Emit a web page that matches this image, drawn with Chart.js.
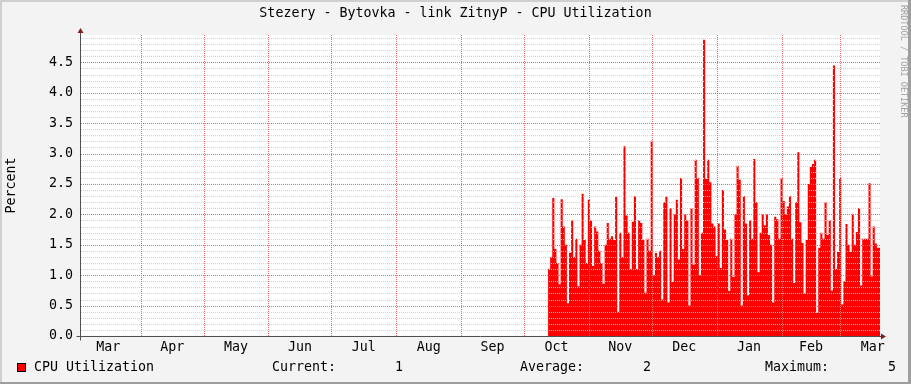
<!DOCTYPE html>
<html>
<head>
<meta charset="utf-8">
<title>Stezery - Bytovka - link ZitnyP - CPU Utilization</title>
<script src="https://cdn.jsdelivr.net/npm/chart.js@4/dist/chart.umd.min.js"></script>
<style>
  html, body { margin: 0; padding: 0; background: #F3F3F3; }
  #chart { display: block; }
</style>
</head>
<body>
<canvas id="chart" width="911" height="384"></canvas>
<script>
// x axis in days counted from the left edge of the plot (3 Mar)
const monthNames = ['Mar', 'Apr', 'May', 'Jun', 'Jul', 'Aug', 'Sep', 'Oct', 'Nov', 'Dec', 'Jan', 'Feb', 'Mar'];
const monthStarts = [-2, 29, 59, 90, 120, 151, 182, 212, 243, 273, 304, 335, 363, 394];
const dayMin = 0;
const dayMax = 382;

const yTickLabels = ['0.0', '0.5', '1.0', '1.5', '2.0', '2.5', '3.0', '3.5', '4.0', '4.5'];
const yMax = 4.95;

// daily CPU utilization (%), first sample on day 223.5 (mid October)
const cpuStartDay = 223.5;
const cpuValues = [
  1.55, 1.10, 1.30, 2.27, 1.43, 1.20, 0.85, 2.25, 1.80, 1.50,
  0.54, 1.37, 1.90, 1.30, 1.60, 0.82, 1.50, 2.34, 1.58, 1.20,
  2.24, 1.90, 1.15, 1.80, 1.72, 1.40, 1.20, 0.86, 1.50, 1.86,
  1.60, 1.64, 1.58, 2.29, 0.40, 1.70, 1.30, 3.12, 1.98, 1.70,
  1.10, 1.88, 2.30, 1.10, 1.90, 1.86, 1.58, 0.71, 1.60, 1.40,
  3.21, 1.00, 1.37, 1.30, 1.40, 0.60, 2.20, 2.29, 0.55, 2.10,
  0.89, 2.00, 2.24, 1.26, 2.60, 1.43, 2.00, 1.90, 0.50, 2.10,
  1.17, 2.90, 2.60, 1.00, 1.70, 4.87, 2.58, 2.90, 2.53, 1.85,
  1.80, 1.31, 1.85, 1.12, 2.40, 1.75, 1.58,
  0.74, 1.60, 0.97, 2.00, 2.80, 2.57, 0.50, 2.30, 1.85, 0.67,
  1.90, 1.60, 2.91, 2.20, 1.05, 1.70, 2.00, 1.82, 2.00, 1.66,
  1.50, 0.55, 1.96, 1.92, 1.60, 2.60, 2.22, 2.00, 2.13, 2.30,
  1.60, 0.87, 2.20, 3.02, 1.87, 1.53, 0.70, 1.58, 2.50, 2.78,
  2.83, 2.90, 0.38, 1.45, 1.70, 1.60, 2.20, 1.66, 1.90, 0.75,
  4.45, 1.10, 1.38, 2.60, 0.52, 0.90, 1.84, 1.50, 1.38, 2.00,
  1.50, 1.71, 2.10, 0.83, 1.60, 1.60, 1.60, 2.51, 0.98, 1.80,
  1.52, 1.45
];

const seriesName = 'CPU Utilization';
const titleText = 'Stezery - Bytovka - link ZitnyP - CPU Utilization';

const FONT = 'DejaVu Sans Mono';
const FONT_SIZE = 13.3;
const GRID_MINOR = '#D4D4D4';
const GRID_MAJOR = '#E86A6A';
const AXIS_COLOR = '#505050';
const ARROW_COLOR = '#7F1F1F';

// points for the stepped area
const points = cpuValues.map((v, i) => ({ x: cpuStartDay + i, y: v }));
points.push({ x: cpuStartDay + cpuValues.length, y: cpuValues[cpuValues.length - 1] });

const monthMids = monthNames.map((m, i) => (monthStarts[i] + monthStarts[i + 1]) / 2);

// legend numbers, rounded like rrdtool's %.0lf
const current = cpuValues[cpuValues.length - 1];
const average = cpuValues.reduce((a, b) => a + b, 0) / cpuValues.length;
const maximum = Math.max(...cpuValues);
const legendStats = [
  ['Current:', current.toFixed(0), 272, 403],
  ['Average:', average.toFixed(0), 520, 651],
  ['Maximum:', maximum.toFixed(0), 765, 896]
];

// rrdtool style dotted grid, drawn on top of the area
function dottedH(ctx, y, x1, x2, color) {
  ctx.fillStyle = color;
  for (let x = x1; x < x2; x += 2) ctx.fillRect(x, y, 1, 1);
}
function dottedV(ctx, x, y1, y2, color) {
  ctx.fillStyle = color;
  for (let y = y1; y < y2; y += 2) ctx.fillRect(x, y, 1, 1);
}

const rrdFrame = {
  id: 'rrdFrame',
  beforeDraw(chart) {
    const { ctx, chartArea: a, width, height } = chart;
    ctx.save();
    ctx.fillStyle = '#F3F3F3';
    ctx.fillRect(0, 0, width, height);
    ctx.fillStyle = '#CFCFCF';
    ctx.fillRect(0, 0, width, 2);
    ctx.fillRect(0, 0, 2, height);
    ctx.fillStyle = '#9E9E9E';
    ctx.fillRect(0, height - 2, width, 2);
    ctx.fillRect(width - 3, 0, 3, height);
    ctx.fillStyle = '#FFFFFF';
    ctx.fillRect(a.left, a.top, a.right - a.left, a.bottom - a.top);
    ctx.restore();
  },
  afterDatasetsDraw(chart) {
    const { ctx, chartArea: a, scales } = chart;
    const left = Math.round(a.left) + 1;
    const right = Math.round(a.right);
    const top = Math.round(a.top);
    const bottom = Math.round(a.bottom);
    ctx.save();
    scales.y.ticks.forEach((t, i) => {
      if (i === 0) return;
      const y = Math.round(scales.y.getPixelForValue(t.value));
      dottedH(ctx, y, left, right, i % 5 === 0 ? GRID_MAJOR : GRID_MINOR);
    });
    monthStarts.forEach(d => {
      if (d <= dayMin || d >= dayMax) return;
      const x = Math.round(scales.x.getPixelForValue(d));
      dottedV(ctx, x, top, bottom, GRID_MAJOR);
    });
    ctx.restore();
  },
  afterDraw(chart) {
    const { ctx, chartArea: a, width } = chart;
    const x0 = Math.round(a.left) + 0.5;
    const y0 = Math.round(a.bottom) + 0.5;
    ctx.save();
    // axis stubs
    ctx.strokeStyle = AXIS_COLOR;
    ctx.lineWidth = 1;
    ctx.beginPath();
    ctx.moveTo(x0 - 4, y0); ctx.lineTo(x0, y0);
    ctx.moveTo(x0, y0); ctx.lineTo(x0, y0 + 4);
    ctx.moveTo(x0, a.top); ctx.lineTo(x0, a.top - 3);
    ctx.stroke();
    ctx.strokeStyle = ARROW_COLOR;
    ctx.beginPath();
    ctx.moveTo(a.right, y0); ctx.lineTo(a.right + 3, y0);
    ctx.stroke();
    // arrows
    ctx.fillStyle = ARROW_COLOR;
    ctx.beginPath();
    ctx.moveTo(x0, a.top - 7);
    ctx.lineTo(x0 - 3, a.top - 2);
    ctx.lineTo(x0 + 3, a.top - 2);
    ctx.closePath();
    ctx.fill();
    ctx.beginPath();
    ctx.moveTo(a.right + 6, y0);
    ctx.lineTo(a.right + 1, y0 - 3);
    ctx.lineTo(a.right + 1, y0 + 3);
    ctx.closePath();
    ctx.fill();

    // title
    ctx.fillStyle = '#000';
    ctx.font = FONT_SIZE + 'px "' + FONT + '"';
    ctx.textBaseline = 'middle';
    ctx.textAlign = 'center';
    ctx.fillText(titleText, width / 2, 14);

    // legend line
    ctx.textAlign = 'left';
    ctx.fillStyle = '#FF0000';
    ctx.fillRect(17, 363, 9, 9);
    ctx.strokeStyle = '#000';
    ctx.strokeRect(17.5, 363.5, 8, 8);
    ctx.fillStyle = '#000';
    ctx.fillText(seriesName, 34, 368);
    legendStats.forEach(([label, value, lx, vx]) => {
      ctx.textAlign = 'left';
      ctx.fillText(label, lx, 368);
      ctx.textAlign = 'right';
      ctx.fillText(value, vx, 368);
    });

    // watermark
    ctx.fillStyle = '#A0A0A0';
    ctx.font = '8.5px "' + FONT + '"';
    ctx.textAlign = 'left';
    ctx.translate(903, 5);
    ctx.rotate(Math.PI / 2);
    ctx.fillText('RRDTOOL / TOBI OETIKER', 0, 0);
    ctx.restore();
  }
};

Chart.defaults.font.family = FONT;
Chart.defaults.font.size = FONT_SIZE;
Chart.defaults.color = '#000';

const config = {
  type: 'line',
  data: {
    datasets: [{
      label: seriesName,
      data: points,
      stepped: 'after',
      fill: 'origin',
      backgroundColor: '#FF0000',
      borderColor: 'rgba(0,0,0,0)',
      borderWidth: 0,
      pointRadius: 0,
      tension: 0
    }]
  },
  options: {
    responsive: false,
    animation: false,
    events: [],
    layout: { padding: { left: 0, right: 31, top: 35, bottom: 28 } },
    plugins: {
      legend: { display: false },
      title: { display: false },
      tooltip: { enabled: false }
    },
    scales: {
      x: {
        type: 'linear',
        min: dayMin,
        max: dayMax,
        afterBuildTicks(scale) {
          scale.ticks = monthMids.map(v => ({ value: v }));
        },
        afterFit(scale) { scale.height = 20; },
        ticks: {
          autoSkip: false,
          maxRotation: 0,
          padding: 4,
          callback(value, index) {
            return monthNames[index];
          }
        },
        grid: { display: false, drawTicks: false },
        border: { display: true, color: AXIS_COLOR, z: 1 }
      },
      y: {
        type: 'linear',
        min: 0,
        max: yMax,
        afterBuildTicks(scale) {
          const t = [];
          for (let i = 0; i * 0.1 < yMax; i++) t.push({ value: i / 10 });
          scale.ticks = t;
        },
        afterFit(scale) { scale.width = 80; },
        ticks: {
          autoSkip: false,
          padding: 7,
          callback(value, index) {
            return index % 5 === 0 ? yTickLabels[index / 5] : '';
          }
        },
        grid: { display: false, drawTicks: false },
        border: { display: true, color: AXIS_COLOR, z: 1 },
        title: {
          display: true,
          text: 'Percent',
          padding: { top: 4, bottom: 0 }
        }
      }
    }
  },
  plugins: [rrdFrame]
};

const chartElement = document.getElementById('chart');
const myChart = new Chart(chartElement, config);
</script>
</body>
</html>
